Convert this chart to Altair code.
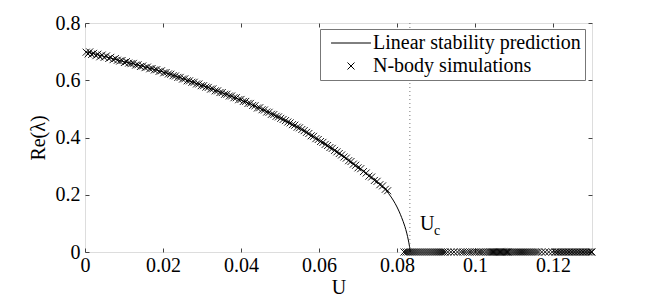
import altair as alt
import pandas as pd

FONT = "Liberation Serif"

# ---------------- data ----------------
series_names = ["Linear stability prediction", "N-body simulations"]

curve_u = [0.0000, 0.0025, 0.0050, 0.0075, 0.0100, 0.0125, 0.0150, 0.0175, 0.0200,
           0.0225, 0.0250, 0.0275, 0.0300, 0.0325, 0.0350, 0.0375, 0.0400, 0.0425,
           0.0450, 0.0475, 0.0500, 0.0525, 0.0550, 0.0575, 0.0600, 0.0625, 0.0650,
           0.0675, 0.0700, 0.0725, 0.0750, 0.0772, 0.0785, 0.0795, 0.0805, 0.0812,
           0.0820, 0.0825, 0.0829, 0.0832, 0.0834]
curve_re = [0.700, 0.692, 0.683, 0.674, 0.665, 0.657, 0.648, 0.639, 0.629,
            0.618, 0.606, 0.594, 0.582, 0.570, 0.557, 0.544, 0.531, 0.516,
            0.501, 0.485, 0.468, 0.450, 0.432, 0.411, 0.390, 0.368, 0.345,
            0.321, 0.296, 0.270, 0.243, 0.215, 0.192, 0.170, 0.143, 0.120,
            0.090, 0.066, 0.042, 0.020, 0.000]

sim_u_unstable = [
    0.0003, 0.0008, 0.0012, 0.0017, 0.0022, 0.0028, 0.0033, 0.0038, 0.0044, 0.0049,
    0.0055, 0.0061, 0.0066, 0.0072, 0.0078, 0.0083, 0.0089, 0.0095, 0.0101, 0.0106,
    0.0112, 0.0118, 0.0124, 0.0130, 0.0136, 0.0142, 0.0148, 0.0154, 0.0160, 0.0166,
    0.0172, 0.0178, 0.0184, 0.0190, 0.0196, 0.0202,
    0.0208, 0.0214, 0.0220, 0.0226, 0.0232, 0.0238, 0.0244, 0.0250, 0.0256, 0.0262,
    0.0268, 0.0274, 0.0280, 0.0286, 0.0292, 0.0298,
    0.0304, 0.0310, 0.0316, 0.0322, 0.0328, 0.0334, 0.0340, 0.0346, 0.0352, 0.0358,
    0.0364, 0.0370, 0.0376, 0.0382, 0.0388, 0.0394,
    0.0400, 0.0406, 0.0412, 0.0418, 0.0424, 0.0430, 0.0436, 0.0442, 0.0448, 0.0454,
    0.0460, 0.0466, 0.0472, 0.0478, 0.0484, 0.0490, 0.0496,
    0.0502, 0.0508, 0.0514, 0.0520, 0.0526, 0.0532, 0.0538, 0.0544, 0.0550, 0.0556,
    0.0562, 0.0568, 0.0574, 0.0580, 0.0586, 0.0592, 0.0598,
    0.0604, 0.0610, 0.0616, 0.0622, 0.0628, 0.0634, 0.0640, 0.0646, 0.0652, 0.0658,
    0.0664, 0.0670, 0.0676, 0.0682, 0.0688, 0.0694, 0.0700,
    0.0707, 0.0714, 0.0721, 0.0728, 0.0735, 0.0742, 0.0749, 0.0756, 0.0763, 0.0770, 0.0776]
sim_re_unstable = [
    0.698, 0.692, 0.699, 0.690, 0.694, 0.686, 0.691, 0.682, 0.688, 0.680,
    0.685, 0.676, 0.680, 0.672, 0.676, 0.670, 0.667, 0.669, 0.662, 0.665,
    0.660, 0.658, 0.659, 0.653, 0.654, 0.648, 0.650, 0.644, 0.646, 0.640,
    0.641, 0.636, 0.637, 0.631, 0.633, 0.626,
    0.627, 0.622, 0.621, 0.616, 0.615, 0.610, 0.610, 0.604, 0.605, 0.598,
    0.598, 0.593, 0.593, 0.587, 0.587, 0.581,
    0.581, 0.576, 0.575, 0.569, 0.570, 0.563, 0.563, 0.557, 0.557, 0.551,
    0.551, 0.545, 0.545, 0.539, 0.539, 0.532,
    0.533, 0.526, 0.526, 0.519, 0.519, 0.512, 0.511, 0.503, 0.504, 0.497,
    0.496, 0.489, 0.488, 0.481, 0.480, 0.474, 0.472,
    0.467, 0.463, 0.459, 0.454, 0.451, 0.445, 0.443, 0.436, 0.434, 0.428,
    0.424, 0.418, 0.414, 0.406, 0.404, 0.396, 0.393,
    0.386, 0.383, 0.376, 0.372, 0.365, 0.362, 0.355, 0.350, 0.344, 0.339,
    0.332, 0.328, 0.319, 0.316, 0.307, 0.303, 0.294,
    0.291, 0.281, 0.276, 0.265, 0.262, 0.250, 0.247, 0.235, 0.231, 0.219, 0.214]

sim_u_stable = [
    0.0818, 0.0823, 0.0828, 0.0833, 0.0838, 0.0843, 0.0848, 0.0853, 0.0858, 0.0863,
    0.0868, 0.0873, 0.0878, 0.0883, 0.0888, 0.0893, 0.0898, 0.0903, 0.0908, 0.0913,
    0.0918, 0.0923,
    0.0930, 0.0938, 0.0946, 0.0955, 0.0963,
    0.0969, 0.0975, 0.0981, 0.0987, 0.0993, 0.0999, 0.1004, 0.1010, 0.1015, 0.1021,
    0.1027, 0.1032, 0.1037,
    0.1040, 0.1043, 0.1046, 0.1049, 0.1052, 0.1055, 0.1058, 0.1061, 0.1064, 0.1067,
    0.1070, 0.1073, 0.1076, 0.1079, 0.1082, 0.1085, 0.1088,
    0.1093, 0.1098, 0.1103, 0.1108, 0.1113, 0.1118, 0.1123, 0.1128, 0.1133, 0.1138,
    0.1143, 0.1148, 0.1153, 0.1158, 0.1163,
    0.1171, 0.1180, 0.1189, 0.1198,
    0.1205, 0.1209, 0.1213, 0.1217, 0.1221, 0.1225, 0.1229, 0.1233, 0.1237, 0.1241,
    0.1245, 0.1249, 0.1253, 0.1257, 0.1261, 0.1265, 0.1269, 0.1273, 0.1277, 0.1281,
    0.1285, 0.1289, 0.1293, 0.1297, 0.1300]
sim_re_stable = [0.0] * len(sim_u_stable)

u_critical = [0.0833]
x_ticks = [0, 0.02, 0.04, 0.06, 0.08, 0.1, 0.12]
y_ticks = [0, 0.2, 0.4, 0.6, 0.8]
uc_label_main = "U"
uc_label_sub = "c"

# ---------------- tables ----------------
line_df = pd.DataFrame({"U": curve_u, "Re": curve_re})
sim_df = pd.DataFrame({
    "U": sim_u_unstable + sim_u_stable,
    "Re": sim_re_unstable + sim_re_stable,
    "series": series_names[1],
})
rule_df = pd.DataFrame({"U": u_critical, "y0": [0.0], "y1": [0.8]})

# ---------------- scales / axes ----------------
x_scale = alt.Scale(domain=[0, 0.13], nice=False, zero=False)
y_scale = alt.Scale(domain=[0, 0.8], nice=False, zero=False)

common = dict(tickSize=4, offset=-4, domain=False, grid=False, tickColor="#444",
              tickWidth=1, labelFont=FONT, labelFontSize=20, labelColor="black",
              titleFont=FONT, titleFontSize=20, titleColor="black",
              titleFontWeight="normal", labelFlush=False, labelOverlap=False,
              format="~g")

bottom_axis = alt.Axis(orient="bottom", values=x_ticks, title="U", labelPadding=3,
                       titleX=253.5, titleY=45, titleBaseline="alphabetic",
                       titleAlign="center", **common)
left_axis = alt.Axis(orient="left", values=y_ticks, title="Re(λ)", labelPadding=5,
                     titleX=-45, titleY=114.5, titleBaseline="alphabetic",
                     titleAlign="center", titleAngle=270, **common)
top_axis = alt.Axis(orient="top", values=x_ticks, title=None, labels=False, **common)
right_axis = alt.Axis(orient="right", values=y_ticks, title=None, labels=False, **common)

CROSS = "M-1,-1L1,1M-1,1L1,-1"
LINE_SYM = "M-5.7,0H5.7"

# ---------------- layers ----------------
line = alt.Chart(line_df).mark_line(color="black", strokeWidth=1, interpolate="monotone").encode(
    x=alt.X("U:Q", scale=x_scale, axis=bottom_axis),
    y=alt.Y("Re:Q", scale=y_scale, axis=left_axis),
)

frame_axes = alt.Chart(line_df).mark_line(opacity=0).encode(
    x=alt.X("U:Q", scale=x_scale, axis=top_axis),
    y=alt.Y("Re:Q", scale=y_scale, axis=right_axis),
)

points = alt.Chart(sim_df).mark_point(filled=False, color="black", size=49,
                                      strokeWidth=0.9, opacity=1).encode(
    x=alt.X("U:Q", scale=x_scale, axis=None),
    y=alt.Y("Re:Q", scale=y_scale, axis=None),
    shape=alt.Shape("series:N",
                    scale=alt.Scale(domain=series_names, range=[LINE_SYM, CROSS]),
                    legend=alt.Legend(title=None, orient="none", legendX=235, legendY=6,
                                      padding=4, strokeColor="#777", fillColor="white",
                                      labelFont=FONT, labelFontSize=20, labelColor="black",
                                      labelBaseline="middle", symbolOffset=17,
                                      labelOffset=12, rowPadding=3, symbolStrokeWidth=1,
                                      symbolStrokeColor="black", symbolSize=49,
                                      labelLimit=400)),
)

rule = alt.Chart(rule_df).mark_rule(strokeDash=[1, 3], color="#777", strokeWidth=1).encode(
    x=alt.X("U:Q", scale=x_scale, axis=None),
    y=alt.Y("y0:Q", scale=y_scale, axis=None),
    y2="y1:Q",
)

txt_main = alt.Chart(pd.DataFrame({"U": [0.0859], "Re": [0.077]})).mark_text(
    text=uc_label_main, font=FONT, fontSize=20, align="left", baseline="alphabetic",
    color="black").encode(
    x=alt.X("U:Q", scale=x_scale, axis=None),
    y=alt.Y("Re:Q", scale=y_scale, axis=None),
)
txt_sub = alt.Chart(pd.DataFrame({"U": [0.0895], "Re": [0.059]})).mark_text(
    text=uc_label_sub, font=FONT, fontSize=14, align="left", baseline="alphabetic",
    color="black").encode(
    x=alt.X("U:Q", scale=x_scale, axis=None),
    y=alt.Y("Re:Q", scale=y_scale, axis=None),
)

chart = alt.layer(line, frame_axes, rule, points, txt_main, txt_sub).resolve_axis(
    x="independent", y="independent"
).properties(
    width=507, height=229,
    autosize=alt.AutoSizeParams(type="none"),
    padding={"left": 77, "top": 15, "right": 54, "bottom": 52},
).configure_view(stroke="#222", strokeWidth=1).configure(background="white")

chart.save("out.html", embed_options={"renderer": "svg", "actions": False})
